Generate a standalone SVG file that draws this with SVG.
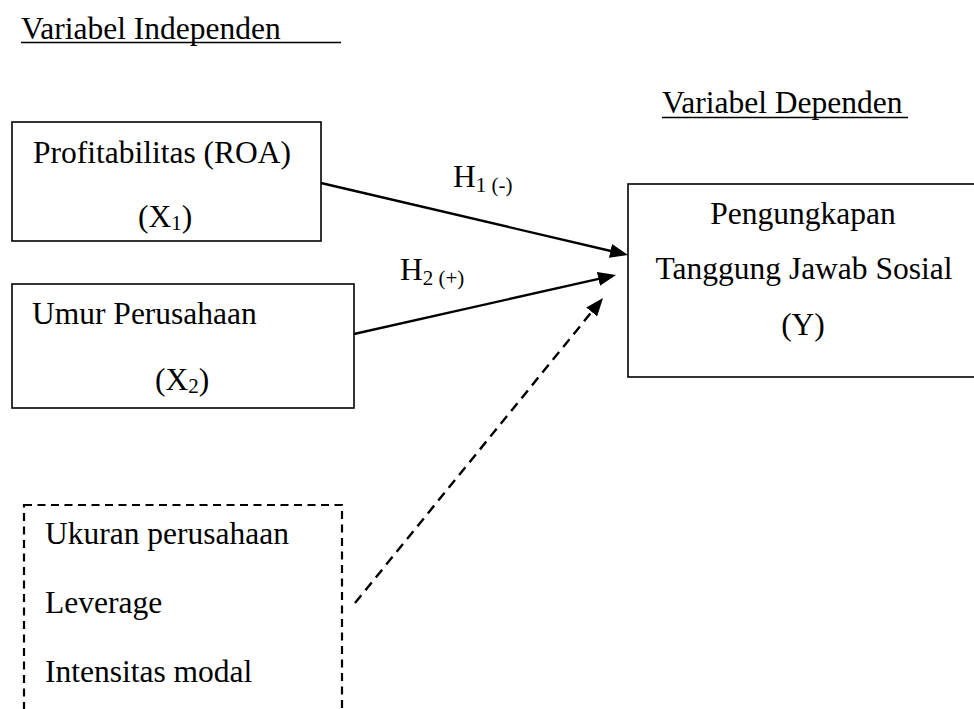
<svg xmlns="http://www.w3.org/2000/svg" width="974" height="709" viewBox="0 0 974 709">
<defs>
<style>
text{font-family:"Liberation Serif","Times New Roman",serif;font-size:31.5px;fill:#000}
.sub{font-size:21px}
.box{fill:none;stroke:#000;stroke-width:1.6}
.dbox{fill:none;stroke:#000;stroke-width:2.2;stroke-dasharray:8 5.5}
.ln{stroke:#000;stroke-width:2.4;fill:none}
.dl{stroke:#000;stroke-width:2.4;fill:none;stroke-dasharray:10 6.5}
.ul{stroke:#000;stroke-width:1.6}
</style>
<marker id="ah" markerUnits="userSpaceOnUse" markerWidth="18" markerHeight="14" refX="7" refY="7" orient="auto">
<path d="M0,0 L18,7 L0,14 z" fill="#000"/>
</marker>
</defs>
<rect width="974" height="709" fill="#fff"/>
<g id="label-independen">
<text x="21" y="39">Variabel Independen</text>
<line class="ul" x1="21" y1="42.5" x2="341" y2="42.5"/>
</g>
<g id="label-dependen">
<text x="662" y="113">Variabel Dependen</text>
<line class="ul" x1="662" y1="117.5" x2="908" y2="117.5"/>
</g>
<g id="node-x1">
<rect class="box" x="12" y="122" width="309" height="119"/>
<text x="33" y="163">Profitabilitas (ROA)</text>
<text x="138" y="227">(X<tspan class="sub" dy="3">1</tspan><tspan dy="-3">)</tspan></text>
</g>
<g id="node-x2">
<rect class="box" x="12" y="284" width="342" height="124"/>
<text x="32" y="324">Umur Perusahaan</text>
<text x="155" y="390">(X<tspan class="sub" dy="3">2</tspan><tspan dy="-3">)</tspan></text>
</g>
<g id="node-y">
<rect class="box" x="628" y="184" width="360" height="193"/>
<text x="803" y="224" text-anchor="middle">Pengungkapan</text>
<text x="804" y="279" text-anchor="middle">Tanggung Jawab Sosial</text>
<text x="803" y="335" text-anchor="middle">(Y)</text>
</g>
<g id="node-control">
<rect class="dbox" x="24" y="505" width="318" height="230"/>
<text x="45" y="544">Ukuran perusahaan</text>
<text x="45" y="613">Leverage</text>
<text x="45" y="682">Intensitas modal</text>
</g>
<g id="connectors">
<line class="ln" x1="321" y1="183" x2="617.3" y2="252.5" marker-end="url(#ah)"/>
<line class="ln" x1="354" y1="334" x2="605.3" y2="277.4" marker-end="url(#ah)"/>
<line class="dl" x1="355" y1="603" x2="596.1" y2="306.5" marker-end="url(#ah)"/>
<text x="453" y="187">H<tspan class="sub" dy="5">1 (-)</tspan></text>
<text x="400" y="280">H<tspan class="sub" dy="5">2 (+)</tspan></text>
</g>
</svg>
